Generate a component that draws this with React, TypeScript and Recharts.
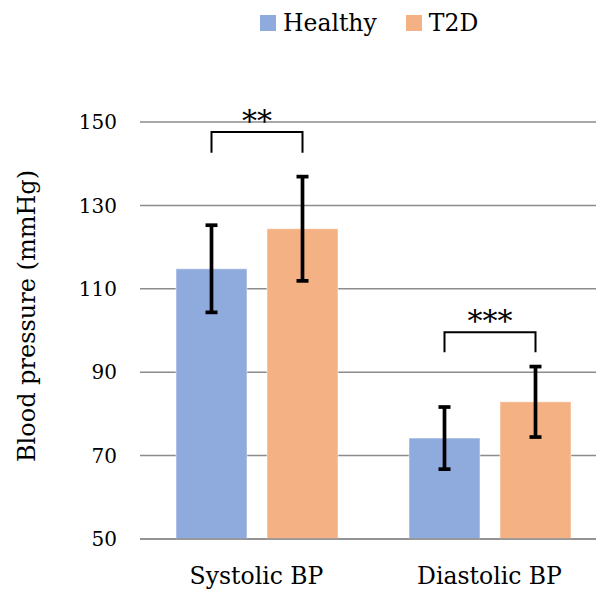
import { BarChart, Bar, XAxis, YAxis, CartesianGrid, ErrorBar } from "recharts";

const categories = ["Systolic BP", "Diastolic BP"];
const healthy = [114.8, 74.2];
const t2d = [124.4, 82.9];
const healthyErr = [10.45, 7.45];
const t2dErr = [12.5, 8.45];
const sigLabels = ["**", "***"];
const bracketTop = [147.6, 99.6];
const bracketFoot = [142.6, 94.8];
const yTicks = [50, 70, 90, 110, 130, 150];

const seriesNames = ["Healthy", "T2D"];
const seriesColors = ["#8faadc", "#f4b183"];

const FONT = "'DejaVu Serif', serif";
const BAR_GAP = 20;
const GRID = "#8c8c8c";

const data = categories.map((name, i) => ({
  name,
  healthy: healthy[i],
  t2d: t2d[i],
  healthyErr: healthyErr[i],
  t2dErr: t2dErr[i],
  sig: sigLabels[i],
  top: bracketTop[i],
  foot: bracketFoot[i],
}));

// draws the T2D bar plus the significance bracket spanning both bars
function T2DShape(props: any) {
  const { x, y, width, height, fill, payload } = props;
  const min = yTicks[0];
  const perUnit = height / (payload.t2d - min);
  const base = y + height;
  const toPx = (v: number) => base - (v - min) * perUnit;
  const right = x + width / 2;
  const left = right - width - BAR_GAP;
  const top = toPx(payload.top);
  const foot = toPx(payload.foot);
  return (
    <g>
      <rect x={x} y={y} width={width} height={height} fill={fill} stroke="#fff" strokeOpacity={0.5} />
      <path
        d={`M${left},${foot}V${top}H${right}V${foot}`}
        fill="none"
        stroke="#000"
        strokeWidth={2}
      />
      <text
        x={(left + right) / 2}
        y={top - 1}
        textAnchor="middle"
        fontFamily={FONT}
        fontSize={30}
        fill="#000"
      >
        {payload.sig}
      </text>
    </g>
  );
}

function YLabel() {
  return (
    <text
      x={35}
      y={316}
      transform="rotate(-90, 35, 316)"
      textAnchor="middle"
      fontFamily={FONT}
      fontSize={24}
      fill="#000"
    >
      Blood pressure (mmHg)
    </text>
  );
}

export default function App() {
  return (
    <div
      style={{
        position: "absolute",
        left: 0,
        top: 0,
        width: 596,
        height: 592,
        overflow: "hidden",
        background: "#fff",
      }}
    >
      <div
        style={{
          position: "absolute",
          left: 260,
          top: 8,
          display: "flex",
          alignItems: "center",
          fontFamily: FONT,
          fontSize: 23.5,
          lineHeight: "30px",
          color: "#000",
          zIndex: 2,
        }}
      >
        {seriesNames.map((n, i) => (
          <div
            key={n}
            style={{ display: "flex", alignItems: "center", marginRight: i === 0 ? 29 : 0 }}
          >
            <span
              style={{
                display: "inline-block",
                width: 16,
                height: 16,
                background: seriesColors[i],
                marginRight: 7,
              }}
            />
            {n}
          </div>
        ))}
      </div>
      <BarChart
        width={606}
        height={592}
        data={data}
        margin={{ top: 122, right: 0, bottom: 0, left: 0 }}
        barSize={71}
        barGap={BAR_GAP}
      >
        <CartesianGrid vertical={false} stroke={GRID} strokeWidth={1.5} />
        <XAxis
          dataKey="name"
          height={53}
          axisLine={{ stroke: GRID, strokeWidth: 1.5 }}
          tickLine={false}
          tickSize={0}
          tickMargin={28}
          tick={{ fontSize: 23.5, fontFamily: FONT, fill: "#000" }}
        />
        <YAxis
          width={140}
          domain={[50, 150]}
          ticks={yTicks}
          axisLine={false}
          tickLine={false}
          tickSize={0}
          tickMargin={23}
          tick={{ fontSize: 20, fontFamily: FONT, fill: "#000" }}
          label={<YLabel />}
        />
        <Bar
          dataKey="healthy"
          name={seriesNames[0]}
          fill={seriesColors[0]}
          stroke="#fff"
          strokeOpacity={0.5}
          isAnimationActive={false}
        >
          <ErrorBar dataKey="healthyErr" stroke="#000" strokeWidth={3.7} width={6} />
        </Bar>
        <Bar
          dataKey="t2d"
          name={seriesNames[1]}
          fill={seriesColors[1]}
          shape={<T2DShape />}
          isAnimationActive={false}
        >
          <ErrorBar dataKey="t2dErr" stroke="#000" strokeWidth={3.7} width={6} />
        </Bar>
      </BarChart>
    </div>
  );
}
